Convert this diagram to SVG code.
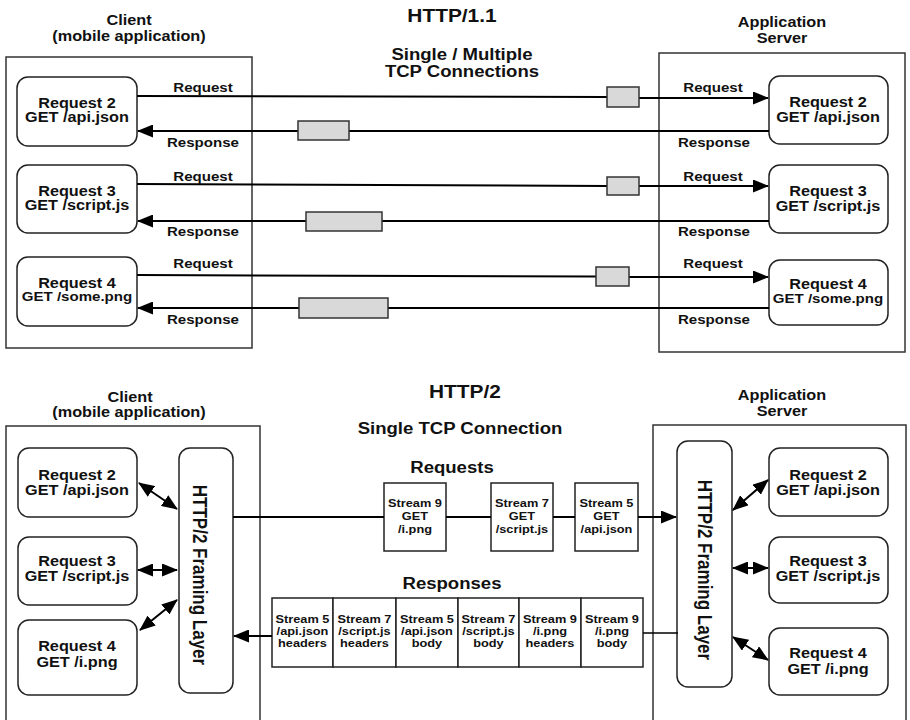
<svg xmlns="http://www.w3.org/2000/svg" width="910" height="720" viewBox="0 0 910 720">
<defs>
<marker id="ah" markerUnits="userSpaceOnUse" markerWidth="16" markerHeight="13" refX="15" refY="6.5" orient="auto-start-reverse">
<path d="M0,0 L16,6.5 L0,13 z" fill="#000"/>
</marker>
<style>
text{font-family:"Liberation Sans",Arial,sans-serif;font-weight:bold;fill:#111;text-anchor:middle}
.s{transform-box:fill-box;transform-origin:center;transform:scaleX(1.16)}
.f18{font-size:18px}.f17{font-size:17px}.f16{font-size:16px}.f14{font-size:14px}.f13{font-size:13px}.f11{font-size:11px}
.box{fill:#fff;stroke:#333;stroke-width:1.5}
.node{fill:#fff;stroke:#222;stroke-width:1.5}
.sb{fill:#fff;stroke:#222;stroke-width:1.5}
.pk{fill:#d9d9d9;stroke:#333;stroke-width:1.5}
.ln{fill:none;stroke:#000;stroke-width:2}
.thin{fill:none;stroke:#000;stroke-width:1.5}
.arr{marker-end:url(#ah)}
.dbl{marker-start:url(#ah);marker-end:url(#ah)}
</style>
</defs>

<!-- ============ HTTP/1.1 ============ -->
<g id="titles-top">
<text class="s f18" x="452" y="22">HTTP/1.1</text>
<text class="s f14" x="129" y="25">Client</text>
<text class="s f14" x="129" y="41">(mobile application)</text>
<text class="s f14" x="782" y="27">Application</text>
<text class="s f14" x="782" y="43">Server</text>
<text class="s f16" x="462" y="60">Single / Multiple</text>
<text class="s f16" x="462" y="77">TCP Connections</text>
</g>

<g id="client1"><rect class="box" x="6" y="57" width="246" height="291"/></g>
<g id="server1"><rect class="box" x="659" y="53" width="246" height="299"/></g>

<g id="c1-req2"><rect class="node" x="17" y="77" width="120" height="69" rx="11"/>
<text class="s f14" x="77" y="108">Request 2</text><text class="s f14" x="77" y="122">GET /api.json</text></g>
<g id="c1-req3"><rect class="node" x="17" y="165" width="120" height="68" rx="11"/>
<text class="s f14" x="77" y="196">Request 3</text><text class="s f14" x="77" y="210">GET /script.js</text></g>
<g id="c1-req4"><rect class="node" x="17" y="257" width="120" height="69" rx="11"/>
<text class="s f14" x="77" y="288">Request 4</text><text class="s f13" x="77" y="301">GET /some.png</text></g>

<g id="s1-req2"><rect class="node" x="769" y="76" width="119" height="68" rx="11"/>
<text class="s f14" x="828" y="107">Request 2</text><text class="s f14" x="828" y="122">GET /api.json</text></g>
<g id="s1-req3"><rect class="node" x="769" y="165" width="119" height="68" rx="11"/>
<text class="s f14" x="828" y="196">Request 3</text><text class="s f14" x="828" y="211">GET /script.js</text></g>
<g id="s1-req4"><rect class="node" x="769" y="260" width="119" height="65" rx="11"/>
<text class="s f14" x="828" y="289">Request 4</text><text class="s f13" x="828" y="303">GET /some.png</text></g>

<g id="connectors-top">
<!-- row 1 -->
<polyline class="ln" points="137,96 607,97"/>
<polyline class="ln arr" points="639,98 768,98"/>
<rect class="pk" x="607" y="87" width="32" height="20"/>
<polyline class="ln" points="769,131 349,131"/>
<polyline class="ln arr" points="298,131 138,131"/>
<rect class="pk" x="298" y="121" width="51" height="19"/>
<text class="s f13" x="203" y="92">Request</text>
<text class="s f13" x="713" y="92">Request</text>
<text class="s f13" x="203" y="147">Response</text>
<text class="s f13" x="714" y="147">Response</text>
<!-- row 2 -->
<polyline class="ln" points="137,184 607,186"/>
<polyline class="ln arr" points="639,186 768,186"/>
<rect class="pk" x="607" y="177" width="32" height="18"/>
<polyline class="ln" points="769,221 382,221"/>
<polyline class="ln arr" points="306,221 138,221"/>
<rect class="pk" x="306" y="212" width="76" height="19"/>
<text class="s f13" x="203" y="181">Request</text>
<text class="s f13" x="713" y="181">Request</text>
<text class="s f13" x="203" y="236">Response</text>
<text class="s f13" x="714" y="236">Response</text>
<!-- row 3 -->
<polyline class="ln" points="137,275 596,276.5"/>
<polyline class="ln arr" points="629,277 768,277"/>
<rect class="pk" x="596" y="267" width="33" height="19"/>
<polyline class="ln" points="769,308 388,308"/>
<polyline class="ln arr" points="299,308 138,308"/>
<rect class="pk" x="299" y="298" width="89" height="20"/>
<text class="s f13" x="203" y="268">Request</text>
<text class="s f13" x="713" y="268">Request</text>
<text class="s f13" x="203" y="324">Response</text>
<text class="s f13" x="714" y="324">Response</text>
</g>

<!-- ============ HTTP/2 ============ -->
<g id="titles-bottom">
<text class="s f18" x="465" y="398">HTTP/2</text>
<text class="s f14" x="130" y="402">Client</text>
<text class="s f14" x="129" y="417">(mobile application)</text>
<text class="s f14" x="782" y="400">Application</text>
<text class="s f14" x="782" y="416">Server</text>
<text class="s f16" x="460" y="434">Single TCP Connection</text>
<text class="s f16" x="452" y="473">Requests</text>
<text class="s f16" x="452" y="589">Responses</text>
</g>

<g id="client2"><rect class="box" x="6" y="426" width="254" height="310"/></g>
<g id="server2"><rect class="box" x="653" y="425" width="253" height="310"/></g>

<g id="c2-req2"><rect class="node" x="18" y="448" width="119" height="69" rx="11"/>
<text class="s f14" x="77" y="480">Request 2</text><text class="s f14" x="77" y="495">GET /api.json</text></g>
<g id="c2-req3"><rect class="node" x="18" y="537" width="119" height="68" rx="11"/>
<text class="s f14" x="77" y="566">Request 3</text><text class="s f14" x="77" y="581">GET /script.js</text></g>
<g id="c2-req4"><rect class="node" x="18" y="620" width="119" height="75" rx="11"/>
<text class="s f14" x="77" y="651">Request 4</text><text class="s f14" x="77" y="667">GET /i.png</text></g>

<g id="c2-framing"><rect class="node" x="179" y="448" width="54" height="245" rx="11"/>
<text class="f17" transform="translate(200,575) rotate(90) scale(1,1.16)" x="0" y="6">HTTP/2 Framing Layer</text></g>

<g id="s2-framing"><rect class="node" x="677" y="441" width="55" height="246" rx="11"/>
<text class="f17" transform="translate(705,570) rotate(90) scale(1,1.16)" x="0" y="6">HTTP/2 Framing Layer</text></g>

<g id="s2-req2"><rect class="node" x="769" y="448" width="119" height="68" rx="11"/>
<text class="s f14" x="828" y="480">Request 2</text><text class="s f14" x="828" y="495">GET /api.json</text></g>
<g id="s2-req3"><rect class="node" x="769" y="537" width="119" height="66" rx="11"/>
<text class="s f14" x="828" y="566">Request 3</text><text class="s f14" x="828" y="581">GET /script.js</text></g>
<g id="s2-req4"><rect class="node" x="769" y="628" width="119" height="67" rx="11"/>
<text class="s f14" x="828" y="658">Request 4</text><text class="s f14" x="828" y="674">GET /i.png</text></g>

<g id="req-streams">
<g id="rq-s9"><rect class="sb" x="384" y="483" width="62" height="68"/>
<text class="s f11" x="415" y="507">Stream 9</text><text class="s f11" x="415" y="520">GET</text><text class="s f11" x="415" y="533">/i.png</text></g>
<g id="rq-s7"><rect class="sb" x="491" y="483" width="62" height="68"/>
<text class="s f11" x="522" y="507">Stream 7</text><text class="s f11" x="522" y="520">GET</text><text class="s f11" x="522" y="533">/script.js</text></g>
<g id="rq-s5"><rect class="sb" x="575" y="483" width="63" height="68"/>
<text class="s f11" x="606.5" y="507">Stream 5</text><text class="s f11" x="606.5" y="520">GET</text><text class="s f11" x="606.5" y="533">/api.json</text></g>
</g>

<g id="resp-streams">
<g id="rs-1"><rect class="sb" x="272" y="598" width="61" height="69"/>
<text class="s f11" x="302.5" y="623">Stream 5</text><text class="s f11" x="302.5" y="635">/api.json</text><text class="s f11" x="302.5" y="647">headers</text></g>
<g id="rs-2"><rect class="sb" x="333" y="598" width="63" height="69"/>
<text class="s f11" x="364.5" y="623">Stream 7</text><text class="s f11" x="364.5" y="635">/script.js</text><text class="s f11" x="364.5" y="647">headers</text></g>
<g id="rs-3"><rect class="sb" x="396" y="598" width="62" height="69"/>
<text class="s f11" x="427" y="623">Stream 5</text><text class="s f11" x="427" y="635">/api.json</text><text class="s f11" x="427" y="647">body</text></g>
<g id="rs-4"><rect class="sb" x="458" y="598" width="61" height="69"/>
<text class="s f11" x="488.5" y="623">Stream 7</text><text class="s f11" x="488.5" y="635">/script.js</text><text class="s f11" x="488.5" y="647">body</text></g>
<g id="rs-5"><rect class="sb" x="519" y="598" width="62" height="69"/>
<text class="s f11" x="550" y="623">Stream 9</text><text class="s f11" x="550" y="635">/i.png</text><text class="s f11" x="550" y="647">headers</text></g>
<g id="rs-6"><rect class="sb" x="581" y="598" width="62" height="69"/>
<text class="s f11" x="612" y="623">Stream 9</text><text class="s f11" x="612" y="635">/i.png</text><text class="s f11" x="612" y="647">body</text></g>
</g>

<g id="connectors-bottom">
<line class="ln" x1="233" y1="517" x2="384" y2="517"/>
<line class="ln" x1="446" y1="517" x2="491" y2="517"/>
<line class="ln" x1="553" y1="517" x2="575" y2="517"/>
<line class="ln arr" x1="638" y1="517" x2="676" y2="517"/>
<line class="thin" x1="678" y1="633" x2="643" y2="633"/>
<line class="ln arr" x1="272" y1="636" x2="234" y2="636"/>
<line class="ln dbl" x1="139" y1="483" x2="177" y2="509"/>
<line class="ln dbl" x1="138" y1="570" x2="177" y2="570"/>
<line class="ln dbl" x1="140" y1="630" x2="177" y2="600"/>
<line class="ln dbl" x1="733" y1="510" x2="768" y2="480"/>
<line class="ln dbl" x1="733" y1="568" x2="768" y2="568"/>
<line class="ln dbl" x1="733" y1="637" x2="768" y2="660"/>
</g>
</svg>
